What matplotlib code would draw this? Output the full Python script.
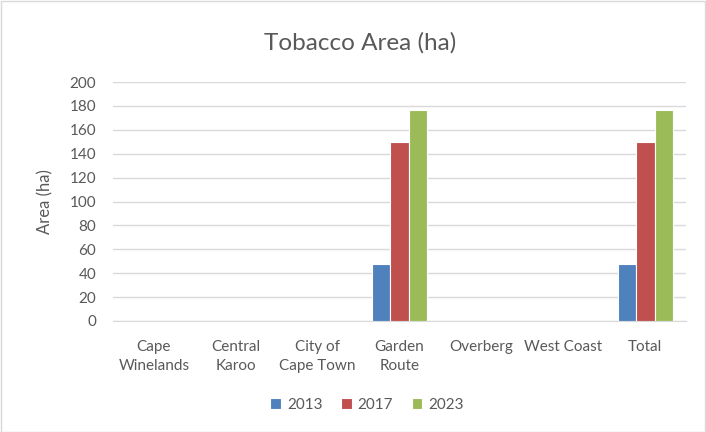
import matplotlib
matplotlib.use("Agg")
import matplotlib.pyplot as plt
import numpy as np

# Data
categories = ["Cape\nWinelands", "Central\nKaroo", "City of\nCape Town", "Garden\nRoute",
              "Overberg", "West Coast", "Total"]
years = ["2013", "2017", "2023"]
area_2013 = [0, 0, 0, 48, 0, 0, 48]
area_2017 = [0, 0, 0, 150, 0, 0, 150]
area_2023 = [0, 0, 0, 177, 0, 0, 177]
y_ticks = list(range(0, 201, 20))

colors = ["#4F81BD", "#C0504D", "#9BBB59"]
text_color = "#595959"

plt.rcParams["font.family"] = ["Lato", "DejaVu Sans"]

fig = plt.figure(figsize=(7.06, 4.32), dpi=100)
fig.patches.append(plt.Rectangle((0.001, 0.001), 0.997, 0.997, transform=fig.transFigure,
                                 fill=False, edgecolor="#D9D9D9", linewidth=1))
ax = fig.add_axes([0.160, 0.257, 0.812, 0.553])

x = np.arange(len(categories))
w = 0.226
for i, (vals, lab) in enumerate(zip([area_2013, area_2017, area_2023], years)):
    ax.bar(x + (i - 1) * w, vals, width=w, color=colors[i], edgecolor="white",
           linewidth=0.8, label=lab, zorder=3)

ax.set_xlim(-0.5, len(categories) - 0.5)
ax.set_ylim(0, 200)
ax.set_yticks(y_ticks)
ax.set_xticks(x)
ax.set_xticklabels(categories, fontsize=11, color=text_color, linespacing=1.45)
ax.tick_params(axis="y", labelsize=11, labelcolor=text_color, length=0, pad=12)
ax.tick_params(axis="x", length=0, pad=14)
ax.grid(axis="y", color="#D9D9D9", linewidth=1, zorder=0)
for s in ["top", "right", "left"]:
    ax.spines[s].set_visible(False)
ax.spines["bottom"].set_color("#D9D9D9")

ax.set_ylabel("Area (ha)", fontsize=12, color=text_color, labelpad=12)
fig.text(0.51, 0.90, "Tobacco Area (ha)", ha="center", va="center", fontsize=17.5, color=text_color)

fig.legend(loc="center", bbox_to_anchor=(0.52, 0.063), ncol=3, frameon=False,
           fontsize=11, labelcolor=text_color, handlelength=0.7, handleheight=0.7,
           handletextpad=0.4, columnspacing=1.2)

plt.savefig("out.png", dpi=100)
